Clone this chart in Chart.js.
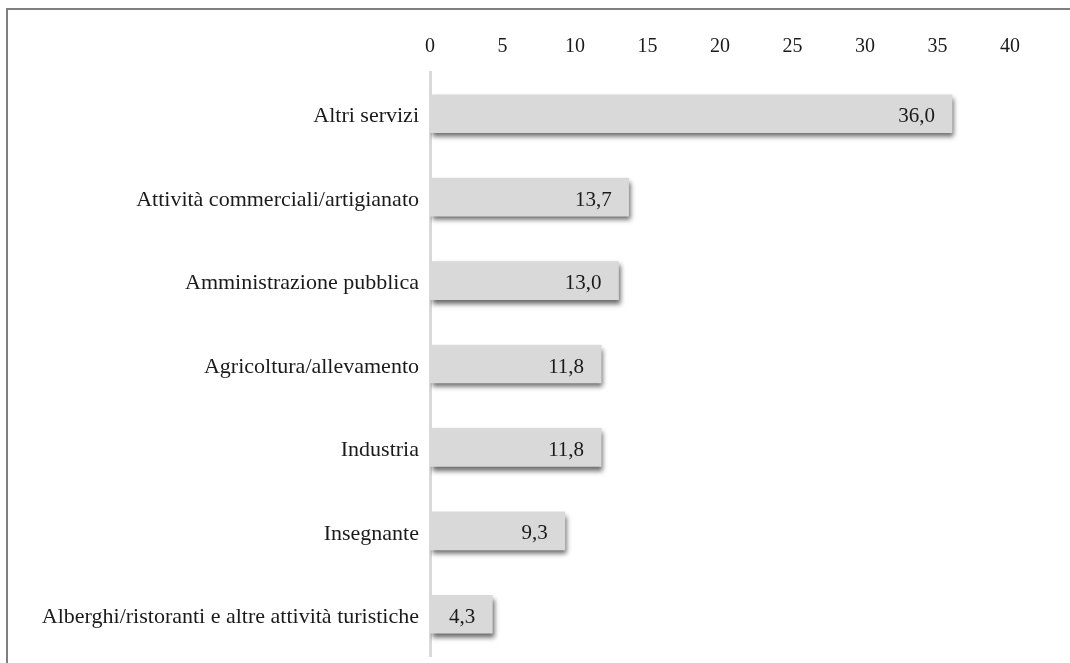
<!DOCTYPE html>
<html>
<head>
<meta charset="utf-8">
<script src="https://cdn.jsdelivr.net/npm/chart.js@4.4.0/dist/chart.umd.min.js"></script>
<style>
    html, body { margin: 0; padding: 0; background: #fff; overflow: hidden; }
    #frame {
        position: absolute; left: 6px; top: 8px; width: 1070px; height: 663px;
        border-left: 2px solid #7f7f7f; border-top: 2px solid #7f7f7f;
    }
    #wrap { position: absolute; left: 0; top: 0; width: 1070px; height: 663px; }
</style>
</head>
<body>
<div id="frame"></div>
<div id="wrap"><canvas id="chart" width="1070" height="663"></canvas></div>
<script>
const categories = [
    'Altri servizi',
    'Attività commerciali/artigianato',
    'Amministrazione pubblica',
    'Agricoltura/allevamento',
    'Industria',
    'Insegnante',
    'Alberghi/ristoranti e altre attività turistiche'
];
const values = [36.0, 13.7, 13.0, 11.8, 11.8, 9.3, 4.3];
const tickValues = [0, 5, 10, 15, 20, 25, 30, 35, 40];

const FONT = "'Liberation Serif', serif";

// shadow under the bars
const barShadow = {
    id: 'barShadow',
    beforeDatasetsDraw(chart) {
        const ctx = chart.ctx;
        ctx.save();
        ctx.shadowColor = 'rgba(0,0,0,0.6)';
        ctx.shadowBlur = 5;
        ctx.shadowOffsetX = 2;
        ctx.shadowOffsetY = 4;
    },
    afterDatasetsDraw(chart) {
        chart.ctx.restore();
    }
};

// value labels inside the bar end
const valueLabels = {
    id: 'valueLabels',
    afterDatasetsDraw(chart) {
        const ctx = chart.ctx;
        const meta = chart.getDatasetMeta(0);
        ctx.save();
        ctx.font = '21px ' + FONT;
        ctx.fillStyle = '#1a1a1a';
        ctx.textAlign = 'right';
        ctx.textBaseline = 'middle';
        meta.data.forEach((bar, i) => {
            const txt = values[i].toFixed(1).replace('.', ',');
            ctx.fillText(txt, bar.x - 17, bar.y + 3);
        });
        ctx.restore();
    }
};

new Chart(document.getElementById('chart'), {
    type: 'bar',
    data: {
        labels: categories,
        datasets: [{
            data: values,
            backgroundColor: '#d9d9d9',
            borderWidth: 0,
            barThickness: 38
        }]
    },
    options: {
        indexAxis: 'y',
        responsive: false,
        animation: false,
        layout: { padding: { left: 0, right: 60, top: 0, bottom: 7 } },
        plugins: { legend: { display: false }, tooltip: { enabled: false } },
        scales: {
            x: {
                position: 'top',
                min: 0,
                max: 40,
                afterBuildTicks: s => { s.ticks = tickValues.map(v => ({ value: v })); },
                afterFit: s => { s.height = 72; },
                grid: { display: false, drawTicks: false },
                border: { display: false },
                ticks: { padding: 13, color: '#1a1a1a', font: { family: FONT, size: 20 } }
            },
            y: {
                afterFit: s => {
                    s.width = 430;
                    s.paddingTop = 0;
                    s.paddingBottom = 0;
                },
                grid: { display: false, drawTicks: false },
                border: { display: true, color: '#d9d9d9', width: 3 },
                ticks: { padding: 11, labelOffset: 3, color: '#1a1a1a', font: { family: FONT, size: 22 } }
            }
        }
    },
    plugins: [barShadow, valueLabels]
});
</script>
</body>
</html>
